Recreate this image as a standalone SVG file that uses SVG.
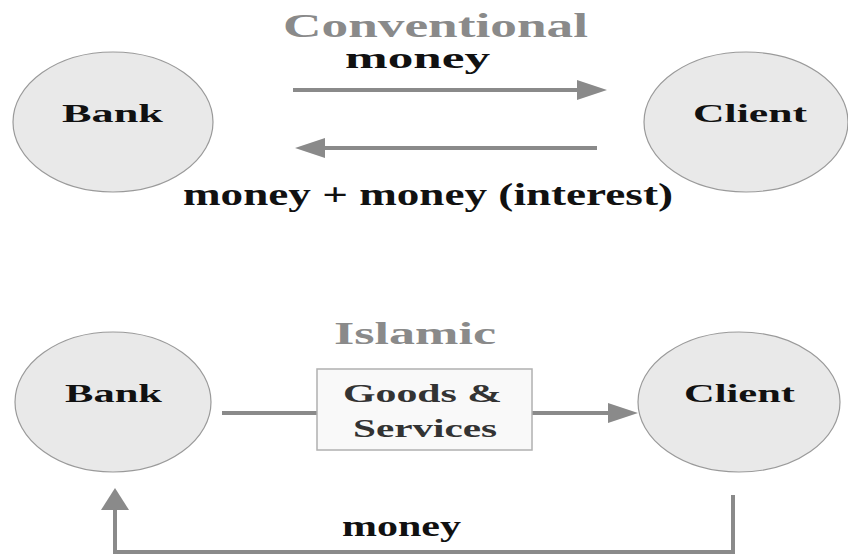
<svg xmlns="http://www.w3.org/2000/svg" width="848" height="555" viewBox="0 0 848 555">
<defs>
<style>
.node{fill:#e9e9e9;stroke:#9a9a9a;stroke-width:1.2}
.t{font-family:"Liberation Serif","Times New Roman",serif;font-weight:bold;fill:#111}
.title{font-family:"Liberation Serif","Times New Roman",serif;font-weight:bold;fill:#8a8a8a}
.con{fill:none;stroke:#8a8a8a;stroke-width:4}
.box{fill:#f9f9f9;stroke:#b0b0b0;stroke-width:1.5}
</style>
<marker id="ah" markerUnits="userSpaceOnUse" viewBox="0 0 30 20" markerWidth="30" markerHeight="20" refX="4" refY="10" orient="auto">
<path d="M0,0 L30,10 L0,20 z" fill="#8a8a8a"/>
</marker>
<marker id="ah2" markerUnits="userSpaceOnUse" viewBox="0 0 22 28" markerWidth="22" markerHeight="28" refX="4" refY="14" orient="auto">
<path d="M0,0 L22,14 L0,28 z" fill="#8a8a8a"/>
</marker>
</defs>
<rect width="848" height="555" fill="#ffffff"/>
<text class="title" x="283" y="37" font-size="34" textLength="305" lengthAdjust="spacingAndGlyphs">Conventional</text>
<text class="title" x="334" y="344" font-size="31" textLength="162" lengthAdjust="spacingAndGlyphs">Islamic</text>
<g id="connectors">
<path class="con" d="M293,90 H581" marker-end="url(#ah)"/>
<path class="con" d="M597,148 H321" marker-end="url(#ah)"/>
<path class="con" d="M222,413 H317"/>
<path class="con" d="M532,413 H612" marker-end="url(#ah)"/>
<path class="con" d="M733,495 V552 H115 V506" marker-end="url(#ah2)"/>
<text class="t" x="345" y="68" font-size="29" textLength="145" lengthAdjust="spacingAndGlyphs">money</text>
<text class="t" x="183" y="205" font-size="31" textLength="490" lengthAdjust="spacingAndGlyphs">money + money (interest)</text>
<text class="t" x="342" y="536" font-size="29" textLength="119" lengthAdjust="spacingAndGlyphs">money</text>
</g>
<g id="bank1">
<ellipse class="node" cx="113" cy="122" rx="100" ry="70"/>
<text class="t" x="62" y="122" font-size="26" textLength="101" lengthAdjust="spacingAndGlyphs">Bank</text>
</g>
<g id="client1">
<ellipse class="node" cx="746" cy="122" rx="102" ry="70"/>
<text class="t" x="693" y="122" font-size="26" textLength="114" lengthAdjust="spacingAndGlyphs">Client</text>
</g>
<g id="bank2">
<ellipse class="node" cx="113" cy="402" rx="98" ry="70"/>
<text class="t" x="65" y="402" font-size="26" textLength="97" lengthAdjust="spacingAndGlyphs">Bank</text>
</g>
<g id="client2">
<ellipse class="node" cx="739" cy="402" rx="101" ry="70"/>
<text class="t" x="684" y="402" font-size="26" textLength="111" lengthAdjust="spacingAndGlyphs">Client</text>
</g>
<g id="goods">
<rect class="box" x="317" y="369" width="215" height="81"/>
<text class="t" x="343" y="402" font-size="26" style="fill:#333" textLength="159" lengthAdjust="spacingAndGlyphs">Goods &amp;</text>
<text class="t" x="353" y="437" font-size="26" style="fill:#333" textLength="144" lengthAdjust="spacingAndGlyphs">Services</text>
</g>
</svg>
